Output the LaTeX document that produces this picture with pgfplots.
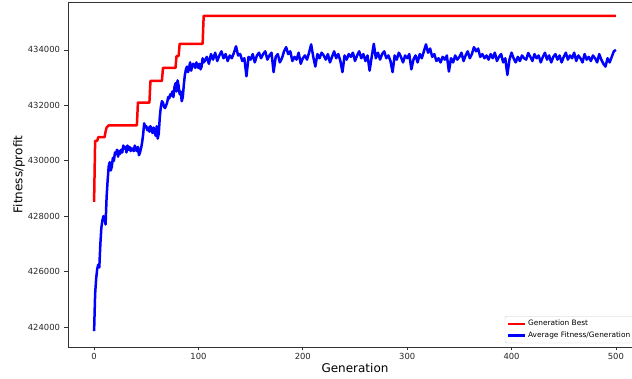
\documentclass[border=0pt]{standalone}
\usepackage{pgfplots}
\pgfplotsset{compat=1.18}
\usepackage{fontspec}
\setmainfont{DejaVu Sans}
\definecolor{spine}{gray}{0.2}
\begin{document}
\begin{tikzpicture}
\useasboundingbox (0,0) rectangle (632pt,379pt);
\clip (0,0) rectangle (632pt,379pt);
\begin{axis}[
  at={(68pt,32pt)}, anchor=south west,
  scale only axis, width=574pt, height=345pt,
  xmin=-25, xmax=525, ymin=423280, ymax=435730,
  xtick={0,100,200,300,400,500},
  ytick={424000,426000,428000,430000,432000,434000},
  scaled y ticks=false,
  /pgf/number format/fixed,
  /pgf/number format/set thousands separator={},
  /pgf/number format/assume math mode=true,
  tick pos=left, tick align=outside, major tick length=3.5pt,
  every tick/.style={spine, line width=0.8pt},
  axis line style={spine, line width=0.8pt},
  ticklabel style={font=\fontsize{8.4}{10}\selectfont, text=black!85},
  xticklabel style={yshift=1pt},
  yticklabel style={xshift=-1pt},
  xlabel={Generation}, ylabel={Fitness/profit},
  label style={font=\fontsize{12}{14}\selectfont},
  xlabel style={at={(axis description cs:0.5,0)}, anchor=center, yshift=-21pt},
  ylabel style={at={(axis description cs:0,0.5)}, anchor=center, yshift=49pt},
  legend style={at={(rel axis cs:0.761,0.011)}, anchor=south west,
    draw=black!20, rounded corners=2pt, fill=white,
    font=\fontsize{7.4}{8.5}\selectfont, inner sep=2pt, row sep=0.5pt},
  legend cell align=left,
  legend image code/.code={\draw[#1] (0pt,0pt) -- (16.6pt,0pt);},
]
\addplot[red, line width=2.5pt, line join=round] coordinates {
(0,428520) (1,430720) (3,430720) (4,430850) (10,430850) (11,431050) (12,431200) (14,431280)
(41,431280) (42,432100) (53,432100) (54,432880) (65,432880) (66,433350) (78,433350)
(79,433780) (81,433780) (82,434220) (104,434220) (105,435230) (500,435230)
};
\addlegendentry{Generation Best}
\addplot[blue, line width=2.5pt, line join=round] coordinates {
(0,423850) (1,425200) (2,425750) (3,426100) (4,426250) (5,426150) (6,427000) (7,427600)
(8,427850) (9,428000) (10,427950) (11,427700) (12,428700) (13,429300) (14,429800) (15,429950)
(16,429650) (17,429800) (18,430100) (19,430000) (20,430300) (21,430250) (22,430400) (23,430150)
(24,430350) (25,430250) (26,430400) (27,430300) (28,430550) (29,430450) (30,430500) (31,430300)
(32,430550) (33,430400) (34,430500) (35,430350) (36,430450) (37,430400) (38,430350) (39,430550)
(40,430400) (41,430350) (42,430500) (43,430200) (44,430300) (45,430450) (46,430650) (47,430950)
(48,431350) (49,431200) (50,431250) (51,431100) (52,431200) (53,431050) (54,431250) (55,431100)
(56,431000) (57,431200) (58,431050) (59,430900) (60,431250) (61,430800) (62,431000) (63,431600)
(64,431950) (65,432150) (66,432100) (67,431950) (68,431900) (69,432000) (70,432100) (71,432300)
(72,432250) (73,432400) (74,432350) (75,432500) (76,432300) (77,432650) (78,432800) (79,432500)
(80,432900) (81,432700) (82,432400) (83,432500) (84,432150) (85,432300) (86,432750) (87,433100)
(88,433300) (89,433400) (90,433200) (91,433350) (92,433550) (93,433250) (94,433400) (95,433500)
(96,433450) (97,433350) (98,433550) (99,433450) (100,433350) (101,433500) (102,433300) (103,433400)
(104,433700) (105,433550) (106,433600)
(108,433750) (110,433500) (112,433850) (114,433650) (116,433900) (118,433600) (120,433800) (122,433950)
(124,433700) (126,433850) (128,433600) (130,433800) (132,433700) (134,433900) (136,434130) (138,433800)
(140,433850) (142,433600) (144,433700) (146,433050) (148,433750) (150,433650) (152,433850) (154,433550)
(156,433800) (158,433900) (160,433700) (162,433850) (164,433950) (166,433650) (168,433800) (170,433900)
(172,433200) (174,433750) (176,433850) (178,433550) (180,433700) (182,433950) (184,434100) (186,433850)
(188,433950) (190,433600) (192,433750) (194,433650) (196,433900) (198,433500) (200,433700) (202,433800)
(204,433650) (206,433900) (208,434200) (210,433750) (212,433400) (214,433850) (216,433700) (218,433900)
(220,433800) (222,433650) (224,433850) (226,433550) (228,433750) (230,433950) (232,433700) (234,433850)
(236,433600) (238,433200) (240,433800) (242,433650) (244,433850) (246,433750) (248,433900) (250,433600)
(252,433800) (254,433950) (256,433700) (258,433850) (260,433600) (262,433800) (264,433250) (266,433750)
(268,434220) (270,433700) (272,433900) (274,433650) (276,433850) (278,433950) (280,433700) (282,433800)
(284,433600) (286,433200) (288,433800) (290,433650) (292,433900) (294,433750) (296,433550) (298,433800)
(300,433700) (302,433850) (304,433300) (306,433650) (308,433800) (310,433550) (312,433850) (314,433700)
(316,433950) (318,434200) (320,433900) (322,434050) (324,433750) (326,433850) (328,433600) (330,433700)
(332,433550) (334,433750) (336,433650) (338,433800) (340,433220) (342,433700) (344,433550) (346,433800)
(348,433650) (350,433750) (352,433900) (354,433600) (356,433800) (358,433950) (360,433700) (362,433850)
(364,434100) (366,433950) (368,434050) (370,433750) (372,433850) (374,433700) (376,433800) (378,433650)
(380,433850) (382,433700) (384,433900) (386,433600) (388,433750) (390,433850) (392,433550) (394,433700)
(396,433100) (398,433650) (400,433900) (402,433700) (404,433550) (406,433750) (408,433600) (410,433800)
(412,433700) (414,433650) (416,433890) (418,433750) (420,433600) (422,433850) (424,433700) (426,433800)
(428,433550) (430,433750) (432,433900) (434,433650) (436,433800) (438,433550) (440,433750) (442,433850)
(444,433650) (446,433800) (448,433550) (450,433750) (452,433900) (454,433650) (456,433800) (458,433700)
(460,433900) (462,433600) (464,433800) (466,433700) (468,433550) (470,433850) (472,433650) (474,433750)
(476,433600) (478,433800) (480,433700) (482,433550) (484,433850) (486,433650) (488,433500) (490,433400)
(492,433700) (494,433550) (496,433750) (498,433950) (500,434000)
};
\addlegendentry{Average Fitness/Generation}
\end{axis}
\end{tikzpicture}
\end{document}
